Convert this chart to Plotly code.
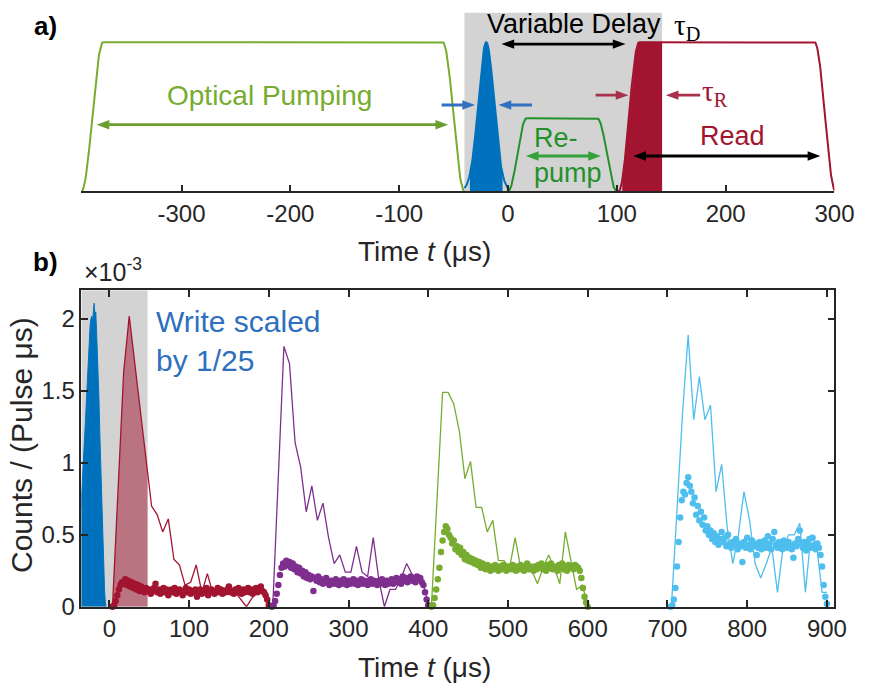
import numpy as np
import plotly.graph_objects as go

# ---------------- Panel a): schematic pulse timing (μs) ----------------
PUMP_T = [-392, -372, -60, -40]      # start, reach top, start fall, end
REPUMP_T = [0, 17, 82, 100]
REPUMP_H = 0.49
READ_T = [101.6, 120.6, 281.7, 301]
READ_FILL = [105, 141.6]
WRITE_CENTER = -20
WRITE_SIGMA = 7.2
WRITE_SPAN = [-40, 0]
WRITE_FILL = [-35, -5]
DELAY_WINDOW = [-40, 141.6]
TOP_TICKS = [-300, -200, -100, 0, 100, 200, 300]
TOP_TICK_TEXT = ["-300", "-200", "-100", "0", "100", "200", "300"]

# ---------------- Panel b): measured counts (units of 1e-3 per pulse per μs) ----------------
write_x = list(range(-40, -3))
write_y = [0.35, 0.42, 0.50, 0.58, 0.66, 0.76, 0.86, 0.95, 1.05, 1.18, 1.28, 1.40, 1.52,
           1.62, 1.72, 1.85, 1.96, 2.00, 2.02, 1.98, 2.08, 2.11, 2.02, 2.05, 1.92, 1.80,
           1.62, 1.45, 1.22, 1.02, 0.85, 0.62, 0.42, 0.25, 0.12, 0.03, 0.00]

line_step_red_x = [4, 11, 18, 25, 32, 39, 46, 53, 60, 67, 74, 81, 88, 95, 102, 109, 116,
                   123, 130, 137, 144, 151, 158, 165, 172, 179, 186, 193, 200]
line_red_y = [0.0, 0.80, 1.63, 2.02, 1.70, 1.36, 1.03, 0.70, 0.64, 0.52, 0.61, 0.33, 0.29,
              0.15, 0.17, 0.29, 0.10, 0.23, 0.09, 0.11, 0.10, 0.12, 0.10, 0.05, 0.0, 0.06,
              0.11, 0.09, 0.0]

line_purple_x = [205, 212, 219, 226, 233, 240, 247, 254, 261, 268, 275, 282, 289, 296, 303,
                 310, 317, 324, 331, 338, 345, 352, 359, 366, 373, 380, 387, 394, 400]
line_purple_y = [0.0, 0.90, 1.81, 1.69, 1.14, 0.97, 0.66, 0.84, 0.60, 0.72, 0.48, 0.30, 0.36,
                 0.24, 0.24, 0.42, 0.24, 0.21, 0.48, 0.19, 0.0, 0.12, 0.12, 0.20, 0.30, 0.22,
                 0.20, 0.15, 0.02]

line_green_x = [404, 411, 418, 425, 432, 439, 446, 453, 460, 467, 474, 481, 488, 495, 502,
                509, 516, 523, 530, 537, 544, 551, 558, 565, 572, 579, 586, 593, 600]
line_green_y = [0.0, 0.75, 1.49, 1.49, 1.41, 1.22, 0.89, 1.01, 0.69, 0.69, 0.52, 0.60, 0.32,
                0.32, 0.27, 0.48, 0.27, 0.27, 0.25, 0.16, 0.27, 0.36, 0.27, 0.16, 0.52, 0.32,
                0.12, 0.15, 0.02]

line_cyan_x = [705, 712, 719, 726, 733, 740, 747, 754, 761, 768, 775, 782, 789, 796, 803,
               810, 817, 824, 831, 838, 845, 852, 859, 866, 873, 880, 887, 894, 900]
line_cyan_y = [0.0, 0.70, 1.35, 1.89, 1.30, 1.60, 1.30, 1.40, 0.80, 0.99, 0.55, 0.30, 0.50,
               0.80, 0.60, 0.30, 0.20, 0.30, 0.41, 0.10, 0.41, 0.50, 0.50, 0.58, 0.10, 0.50,
               0.43, 0.10, 0.10]

dots_red_x = list(range(4, 201, 2))
dots_red_y = [0.00, 0.01, 0.04, 0.08, 0.12, 0.15, 0.17, 0.16, 0.19, 0.15, 0.18, 0.14, 0.17,
              0.13, 0.16, 0.12, 0.15, 0.11, 0.14, 0.12, 0.10, 0.13, 0.11, 0.12, 0.09, 0.11,
              0.13, 0.16, 0.10, 0.12, 0.09, 0.11, 0.13, 0.10, 0.12, 0.08, 0.11, 0.12, 0.10,
              0.13, 0.09, 0.11, 0.12, 0.10, 0.08, 0.11, 0.13, 0.10, 0.12, 0.09, 0.11, 0.10,
              0.12, 0.07, 0.10, 0.12, 0.09, 0.11, 0.10, 0.13, 0.08, 0.11, 0.12, 0.10, 0.09,
              0.11, 0.13, 0.10, 0.12, 0.09, 0.11, 0.10, 0.12, 0.14, 0.10, 0.11, 0.09, 0.12,
              0.10, 0.13, 0.11, 0.09, 0.12, 0.10, 0.11, 0.13, 0.10, 0.12, 0.09, 0.11, 0.13,
              0.10, 0.12, 0.14, 0.11, 0.10, 0.08, 0.05, 0.01]

dots_purple_x = list(range(204, 401, 2))
dots_purple_y = [0.00, 0.01, 0.04, 0.09, 0.15, 0.22, 0.27, 0.30, 0.28, 0.32, 0.29, 0.31, 0.27,
                 0.30, 0.26, 0.28, 0.24, 0.27, 0.23, 0.25, 0.21, 0.24, 0.20, 0.22, 0.19, 0.21,
                 0.11, 0.20, 0.18, 0.21, 0.17, 0.19, 0.16, 0.18, 0.20, 0.17, 0.15, 0.18, 0.17,
                 0.16, 0.19, 0.17, 0.15, 0.18, 0.16, 0.19, 0.17, 0.15, 0.18, 0.16, 0.17, 0.19,
                 0.16, 0.18, 0.15, 0.17, 0.19, 0.16, 0.18, 0.17, 0.15, 0.18, 0.19, 0.16, 0.18,
                 0.17, 0.15, 0.18, 0.16, 0.19, 0.17, 0.15, 0.18, 0.16, 0.17, 0.19, 0.16, 0.18,
                 0.20, 0.17, 0.19, 0.16, 0.21, 0.18, 0.20, 0.17, 0.19, 0.21, 0.18, 0.20, 0.17,
                 0.21, 0.19, 0.20, 0.17, 0.15, 0.10, 0.05, 0.01]

dots_green_x = list(range(404, 601, 2))
dots_green_y = [0.00, 0.01, 0.06, 0.12, 0.19, 0.27, 0.38, 0.46, 0.52, 0.56, 0.54, 0.50, 0.48,
                0.44, 0.46, 0.40, 0.42, 0.38, 0.41, 0.36, 0.38, 0.33, 0.36, 0.32, 0.34, 0.31,
                0.33, 0.30, 0.32, 0.29, 0.31, 0.27, 0.30, 0.28, 0.26, 0.29, 0.27, 0.25, 0.28,
                0.26, 0.29, 0.27, 0.25, 0.28, 0.26, 0.29, 0.27, 0.25, 0.28, 0.27, 0.26, 0.29,
                0.27, 0.25, 0.28, 0.26, 0.29, 0.27, 0.25, 0.28, 0.30, 0.26, 0.28, 0.27, 0.25,
                0.28, 0.26, 0.29, 0.27, 0.30, 0.26, 0.28, 0.25, 0.29, 0.27, 0.30, 0.26, 0.28,
                0.27, 0.25, 0.29, 0.27, 0.30, 0.26, 0.28, 0.25, 0.29, 0.27, 0.28, 0.26, 0.29,
                0.28, 0.27, 0.25, 0.20, 0.13, 0.07, 0.03, 0.00]

dots_cyan_x = list(range(704, 901, 2))
dots_cyan_y = [0.00, 0.01, 0.05, 0.13, 0.28, 0.45, 0.62, 0.74, 0.80, 0.78, 0.86, 0.90, 0.84,
               0.80, 0.72, 0.76, 0.64, 0.70, 0.60, 0.66, 0.57, 0.62, 0.53, 0.56, 0.50, 0.53,
               0.47, 0.51, 0.45, 0.49, 0.43, 0.47, 0.52, 0.45, 0.48, 0.42, 0.50, 0.44, 0.41,
               0.45, 0.43, 0.47, 0.40, 0.44, 0.42, 0.31, 0.45, 0.41, 0.48, 0.43, 0.40, 0.46,
               0.42, 0.44, 0.36, 0.41, 0.45, 0.40, 0.43, 0.46, 0.41, 0.49, 0.44, 0.40, 0.47,
               0.52, 0.43, 0.41, 0.45, 0.42, 0.40, 0.46, 0.43, 0.41, 0.45, 0.42, 0.40, 0.34,
               0.44, 0.42, 0.47, 0.53, 0.44, 0.41, 0.45, 0.39, 0.43, 0.47, 0.41, 0.48, 0.43,
               0.40, 0.44, 0.41, 0.36, 0.28, 0.15, 0.07, 0.02]

READ_WINDOW_B = [-35, 48]   # shaded read window in panel b
BOTTOM_TICKS = [0, 100, 200, 300, 400, 500, 600, 700, 800, 900]
Y_TICKS = [0, 0.5, 1, 1.5, 2]
Y_TICK_TEXT = ["0", "0.5", "1", "1.5", "2"]

# ---------------- colours ----------------
C_BLUE = "#0072bd"
C_RED = "#a2142f"
C_PURPLE = "#7e2f8e"
C_GREEN = "#77ac30"
C_CYAN = "#4dbeee"
C_REPUMP = "#23912a"
C_GRAY = "#d3d3d3"
C_AX = "#262626"
FONT = "Liberation Sans, Arial, sans-serif"
SERIF = "Liberation Serif, Times New Roman, serif"

W, H = 875, 693
X_DOM = [83.3, 854.0]           # pixel extent of both panels
TOP_RANGE_X = [-392, 300]
TOP_RANGE_Y = [0, 1.217]
TOP_PIX_Y = [195.0, 10.0]
PX_X = (X_DOM[1] - X_DOM[0]) / (TOP_RANGE_X[1] - TOP_RANGE_X[0])
PX_Y = (TOP_PIX_Y[0] - TOP_PIX_Y[1]) / (TOP_RANGE_Y[1] - TOP_RANGE_Y[0])


def px(xp):
    return xp / W


def py(yp):
    return 1 - yp / H


def smooth_pulse(t, t0, t1, t2, t3, h=1.0):
    t = np.asarray(t, float)
    y = np.zeros_like(t)
    r = (t >= t0) & (t < t1)
    y[r] = h * (0.5 - 0.5 * np.cos(np.pi * (t[r] - t0) / (t1 - t0)))
    f = (t >= t1) & (t <= t2)
    y[f] = h
    d = (t > t2) & (t <= t3)
    y[d] = h * (0.5 + 0.5 * np.cos(np.pi * (t[d] - t2) / (t3 - t2)))
    return y


fig = go.Figure()

# ---------------- panel a traces ----------------
tp = np.linspace(PUMP_T[0], PUMP_T[3], 600)
fig.add_trace(go.Scatter(x=tp, y=smooth_pulse(tp, *PUMP_T), mode="lines",
                         line=dict(color=C_GREEN, width=2), xaxis="x", yaxis="y"))

tw = np.linspace(WRITE_SPAN[0], WRITE_SPAN[1], 200)
gw = np.exp(-(tw - WRITE_CENTER) ** 2 / (2 * WRITE_SIGMA ** 2))
twf = np.linspace(WRITE_FILL[0], WRITE_FILL[1], 200)
gwf = np.exp(-(twf - WRITE_CENTER) ** 2 / (2 * WRITE_SIGMA ** 2))
fig.add_trace(go.Scatter(x=twf, y=gwf, mode="lines", fill="tozeroy", fillcolor=C_BLUE,
                         line=dict(color=C_BLUE, width=0.5), xaxis="x", yaxis="y"))
fig.add_trace(go.Scatter(x=tw, y=gw, mode="lines", line=dict(color=C_BLUE, width=2),
                         xaxis="x", yaxis="y"))

tr = np.linspace(REPUMP_T[0], REPUMP_T[3], 300)
fig.add_trace(go.Scatter(x=tr, y=smooth_pulse(tr, *REPUMP_T, h=REPUMP_H), mode="lines",
                         line=dict(color=C_REPUMP, width=2), xaxis="x", yaxis="y"))

trd = np.linspace(READ_T[0], READ_T[3], 600)
trf = np.linspace(READ_FILL[0], READ_FILL[1], 200)
fig.add_trace(go.Scatter(x=trf, y=smooth_pulse(trf, *READ_T), mode="lines", fill="tozeroy",
                         fillcolor=C_RED, line=dict(color=C_RED, width=0.5),
                         xaxis="x", yaxis="y"))
fig.add_trace(go.Scatter(x=trd, y=smooth_pulse(trd, *READ_T), mode="lines",
                         line=dict(color=C_RED, width=2), xaxis="x", yaxis="y"))

# ---------------- panel b traces ----------------
fig.add_trace(go.Scatter(x=write_x, y=write_y, mode="lines", fill="tozeroy", fillcolor=C_BLUE,
                         line=dict(color=C_BLUE, width=1), xaxis="x2", yaxis="y2"))

edge = READ_WINDOW_B[1]
fx = [x for x in line_step_red_x if x < edge] + [edge]
fy = [y for x, y in zip(line_step_red_x, line_red_y) if x < edge] + \
     [float(np.interp(edge, line_step_red_x, line_red_y))]
fig.add_trace(go.Scatter(x=fx, y=fy, mode="lines", fill="tozeroy",
                         fillcolor="rgba(162,20,47,0.5)", line=dict(width=0),
                         xaxis="x2", yaxis="y2"))

for lx, ly, dx, dy, col in [
    (line_step_red_x, line_red_y, dots_red_x, dots_red_y, C_RED),
    (line_purple_x, line_purple_y, dots_purple_x, dots_purple_y, C_PURPLE),
    (line_green_x, line_green_y, dots_green_x, dots_green_y, C_GREEN),
    (line_cyan_x, line_cyan_y, dots_cyan_x, dots_cyan_y, C_CYAN),
]:
    fig.add_trace(go.Scatter(x=lx, y=ly, mode="lines", line=dict(color=col, width=1.3),
                             xaxis="x2", yaxis="y2"))
    fig.add_trace(go.Scatter(x=dx, y=dy, mode="markers", cliponaxis=False,
                             marker=dict(color=col, size=6.5, line=dict(width=0)),
                             xaxis="x2", yaxis="y2"))

# ---------------- shapes ----------------
shapes = [
    dict(type="rect", xref="x", yref="y", x0=DELAY_WINDOW[0], x1=DELAY_WINDOW[1],
         y0=0, y1=1.197, fillcolor=C_GRAY, line=dict(width=0), layer="below"),
    dict(type="rect", xref="x2", yref="y2", x0=READ_WINDOW_B[0], x1=READ_WINDOW_B[1],
         y0=0, y1=2.2, fillcolor=C_GRAY, line=dict(width=0), layer="below"),
]


def head(xt, y, s, color, L=13, hw=4.8):
    dx = L / PX_X
    dy = hw / PX_Y
    path = "M {:.3f},{:.4f} L {:.3f},{:.4f} L {:.3f},{:.4f} Z".format(
        xt, y, xt - s * dx, y + dy, xt - s * dx, y - dy)
    shapes.append(dict(type="path", xref="x", yref="y", path=path, fillcolor=color,
                       line=dict(width=0), layer="above"))


def harrow(x0, x1, y, color, width=2.8, both=False, L=13):
    """Horizontal arrow from tail x0 to tip x1 (panel a data units)."""
    s = 1 if x1 > x0 else -1
    dx = L / PX_X
    start = x0 + s * dx * 0.7 if both else x0
    end = x1 - s * dx * 0.7
    shapes.append(dict(type="line", xref="x", yref="y", x0=start, x1=end, y0=y, y1=y,
                       line=dict(color=color, width=width), layer="above"))
    head(x1, y, s, color, L=L)
    if both:
        head(x0, y, -s, color, L=L)


# panel a arrows
harrow(-378, -55, 0.447, "#6a9f2e", both=True)
harrow(-61, -30.3, 0.579, "#3370bf")
harrow(22, -8.7, 0.579, "#3370bf")
harrow(16.4, 85.4, 0.237, "#34a23a", both=True)
harrow(80.5, 110.7, 0.645, "#a8324c")
harrow(176.6, 145, 0.645, "#a8324c")
harrow(-6, 108, 0.987, "black", both=True)
harrow(115, 287, 0.237, "black", both=True)

# ---------------- annotations ----------------
ann = []


def text(x, y, s, size, color, xanchor="center", yanchor="middle", xref="x", yref="y",
         family=FONT, angle=0, align="center"):
    ann.append(dict(x=x, y=y, xref=xref, yref=yref, text=s, showarrow=False,
                    xanchor=xanchor, yanchor=yanchor, textangle=angle, align=align,
                    font=dict(size=size, color=color, family=family)))


text(-219, 0.64, "Optical Pumping", 28, C_GREEN)
text(22, 0.36, "Re-", 27, C_REPUMP, xanchor="left")
text(22, 0.125, "pump", 27, C_REPUMP, xanchor="left")
text(206.4, 0.37, "Read", 27, C_RED)
text(176.6, 0.66, "τ<sub>R</sub>", 29, C_RED, xanchor="left", family=SERIF)
text(-21.3, 1.12, "Variable Delay", 27, "black", xanchor="left")
text(150.6, 1.10, "τ<sub>D</sub>", 29, "black", xanchor="left", family=SERIF)

# axis titles & labels (paper coordinates)
text(px(434.5), py(256), "Time <i>t</i> (μs)", 28, C_AX, xref="paper", yref="paper")
text(px(434.5), py(680), "Time <i>t</i> (μs)", 28, C_AX, xref="paper", yref="paper")
text(px(22), py(453), "Counts / (Pulse μs)", 30, C_AX, xref="paper", yref="paper", angle=-90)
text(px(33), py(26), "<b>a)</b>", 26, "black", xanchor="left", xref="paper", yref="paper")
text(px(32), py(267), "<b>b)</b>", 26, "black", xanchor="left", xref="paper", yref="paper")
text(px(84), py(293), "×10<sup>-3</sup>", 25, C_AX, xanchor="left", yanchor="bottom",
     xref="paper", yref="paper")
text(px(158), py(309), "Write scaled<br>by 1/25", 30, "#2e6fbe", xanchor="left",
     yanchor="top", xref="paper", yref="paper", align="left")

axis_common = dict(showline=True, linecolor=C_AX, linewidth=1.6, ticks="inside", ticklen=7,
                   tickwidth=1.6, tickcolor=C_AX, showgrid=False, zeroline=False,
                   tickfont=dict(size=24, color=C_AX, family=FONT))

fig.update_layout(
    width=W, height=H, margin=dict(l=0, r=0, t=0, b=0),
    paper_bgcolor="white", plot_bgcolor="white", showlegend=False,
    font=dict(family=FONT, color=C_AX),
    xaxis=dict(domain=[px(X_DOM[0]), px(X_DOM[1])], range=TOP_RANGE_X, anchor="y",
               tickvals=TOP_TICKS, ticktext=TOP_TICK_TEXT, **axis_common),
    yaxis=dict(domain=[py(TOP_PIX_Y[0]), py(TOP_PIX_Y[1])], range=TOP_RANGE_Y,
               visible=False, anchor="x"),
    xaxis2=dict(domain=[px(X_DOM[0]), px(X_DOM[1])], range=[-35, 909.5], anchor="y2",
                mirror="ticks", tickvals=BOTTOM_TICKS, **axis_common),
    yaxis2=dict(domain=[py(618.3), py(295.8)], range=[0, 2.2], anchor="x2",
                mirror="ticks", tickvals=Y_TICKS, ticktext=Y_TICK_TEXT, **axis_common),
    shapes=shapes, annotations=ann,
)

fig.write_html("out.html")
